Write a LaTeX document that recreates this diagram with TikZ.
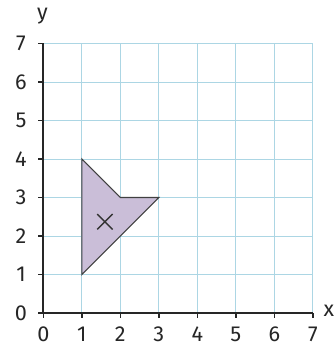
\documentclass[tikz,border=0pt]{standalone}
\usepackage{fontspec}
\setmainfont{Fira Sans}
\usepackage{tikz}
\usetikzlibrary{positioning}
\definecolor{gridblue}{RGB}{172,214,228}
\definecolor{kitefill}{RGB}{202,190,216}

\begin{document}
\begin{tikzpicture}[x=1cm, y=1cm,
          gridline/.style={draw=gridblue, line width=0.7pt},
          axis/.style={draw=black!85, line width=1.4pt},
          ticklab/.style={font=\fontsize{16}{18}\selectfont, text=black!85, inner sep=1pt},
          kite/.style={draw=black!75, fill=kitefill, line width=0.8pt, line join=miter}
        ]
        \useasboundingbox (-1.125,-0.987) rectangle (7.602,8.13);
        % grid
        \draw[gridline] (0,0) grid (7,7);
        % axes
        \coordinate (O)    at (0,0);
        \coordinate (xend) at (7,0);
        \coordinate (yend) at (0,7);
        \draw[axis] (xend) -- (O) -- (yend);
        \foreach \k in {0,...,7} {
          \draw[axis, line width=1.1pt] (\k,0) -- (\k,-0.13);
          \draw[axis, line width=1.1pt] (0,\k) -- (-0.13,\k);
          \node[ticklab] (xl\k) at (\k,-0.55) {\k};
          \node[ticklab] (yl\k) at (-0.58,\k) {\k};
        }
        \node[ticklab] (ylab) at (-0.02,7.7) {y};
        \node[ticklab] (xlab) at (7.42,0.05) {x};
        % shape
        \coordinate (A) at (1,4);
        \coordinate (B) at (2,3);
        \coordinate (C) at (3,3);
        \coordinate (D) at (1,1);
        \draw[kite] (A) -- (B) -- (C) -- (D) -- cycle;
        % centre mark
        \coordinate (mark) at (1.6,2.37);
        \draw[black!80, line width=1pt] ([shift={(-0.2,-0.2)}]mark) -- ([shift={(0.2,0.2)}]mark)
                                        ([shift={(-0.2,0.2)}]mark) -- ([shift={(0.2,-0.2)}]mark);
      \end{tikzpicture}
\end{document}
